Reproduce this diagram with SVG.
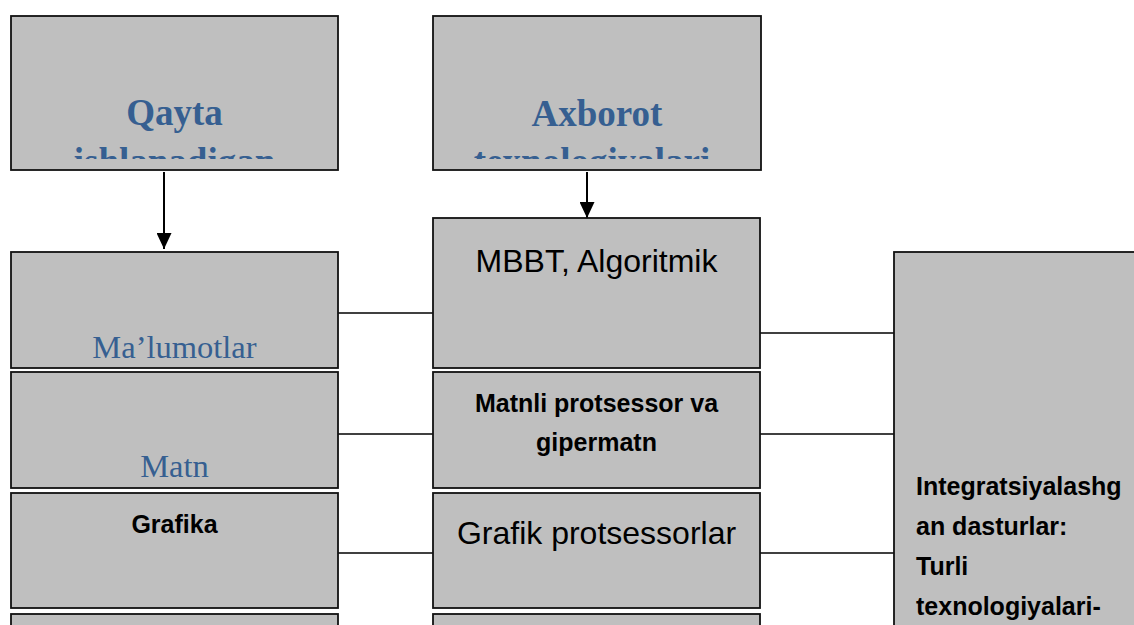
<svg xmlns="http://www.w3.org/2000/svg" width="1134" height="625" viewBox="0 0 1134 625">
<style>
.box{fill:#BFBFBF;stroke:#111;stroke-width:1.8}
.conn{stroke:#000;stroke-width:1.6;fill:none}
.arrow{stroke:#000;stroke-width:2;fill:none}
.title{font-family:"Liberation Serif",serif;font-weight:bold;font-size:37px;fill:#365F91;text-anchor:middle}
.blue{font-family:"Liberation Serif",serif;font-size:32.5px;fill:#365F91;text-anchor:middle}
.bold{font-family:"Liberation Sans",Arial,sans-serif;font-weight:bold;font-size:25px;fill:#000}
.reg{font-family:"Liberation Sans",Arial,sans-serif;font-size:32px;fill:#000;text-anchor:middle}
</style>
<defs>
<marker id="ah" markerUnits="userSpaceOnUse" markerWidth="16" markerHeight="15" refX="16" refY="7.5" orient="auto">
<path d="M0,0 L16,7.5 L0,15 Z" fill="#000"/>
</marker>
<clipPath id="c1"><rect x="11" y="16" width="327" height="143"/></clipPath>
<clipPath id="c2"><rect x="433" y="16" width="328" height="143"/></clipPath>
</defs>
<rect width="1134" height="625" fill="#fff"/>
<g id="connectors">
<line class="arrow" x1="164" y1="172" x2="164" y2="249" marker-end="url(#ah)"/>
<line class="arrow" x1="587" y1="172" x2="587" y2="218" marker-end="url(#ah)"/>
<line class="conn" x1="338" y1="313" x2="433" y2="313"/>
<line class="conn" x1="338" y1="434" x2="433" y2="434"/>
<line class="conn" x1="338" y1="553" x2="433" y2="553"/>
<line class="conn" x1="760" y1="333" x2="894" y2="333"/>
<line class="conn" x1="760" y1="434" x2="894" y2="434"/>
<line class="conn" x1="760" y1="553" x2="894" y2="553"/>
</g>
<g id="n-qayta">
<rect class="box" x="11" y="16" width="327" height="154"/>
<g clip-path="url(#c1)">
<text class="title" x="174.5" y="125">Qayta</text>
<text class="title" x="174.5" y="174">ishlanadigan</text>
</g>
</g>
<g id="n-axborot">
<rect class="box" x="433" y="16" width="328" height="154"/>
<g clip-path="url(#c2)">
<text class="title" x="597" y="126">Axborot</text>
<text class="title" x="592" y="174">texnologiyalari</text>
</g>
</g>
<g id="n-malumotlar">
<rect class="box" x="11" y="252" width="327" height="116"/>
<text class="blue" x="174.5" y="358">Ma’lumotlar</text>
</g>
<g id="n-matn">
<rect class="box" x="11" y="372" width="327" height="116"/>
<text class="blue" x="174.5" y="477">Matn</text>
</g>
<g id="n-grafika">
<rect class="box" x="11" y="493" width="327" height="115"/>
<text class="bold" x="174.5" y="533" text-anchor="middle">Grafika</text>
</g>
<g id="n-left4">
<rect class="box" x="11" y="614" width="327" height="40"/>
</g>
<g id="n-mbbt">
<rect class="box" x="433" y="218" width="327" height="150"/>
<text class="reg" x="596.5" y="272">MBBT, Algoritmik</text>
</g>
<g id="n-matnli">
<rect class="box" x="433" y="372" width="327" height="116"/>
<text class="bold" x="596.5" y="412" text-anchor="middle">Matnli protsessor va</text>
<text class="bold" x="596.5" y="451" text-anchor="middle">gipermatn</text>
</g>
<g id="n-grafik">
<rect class="box" x="433" y="493" width="327" height="115"/>
<text class="reg" x="596.5" y="544">Grafik protsessorlar</text>
</g>
<g id="n-mid4">
<rect class="box" x="433" y="614" width="327" height="40"/>
</g>
<g id="n-integr">
<rect class="box" x="894" y="252" width="260" height="400"/>
<text class="bold" x="916" y="495">Integratsiyalashg</text>
<text class="bold" x="916" y="535">an dasturlar:</text>
<text class="bold" x="916" y="575">Turli</text>
<text class="bold" x="916" y="615">texnologiyalari-</text>
</g>
</svg>
